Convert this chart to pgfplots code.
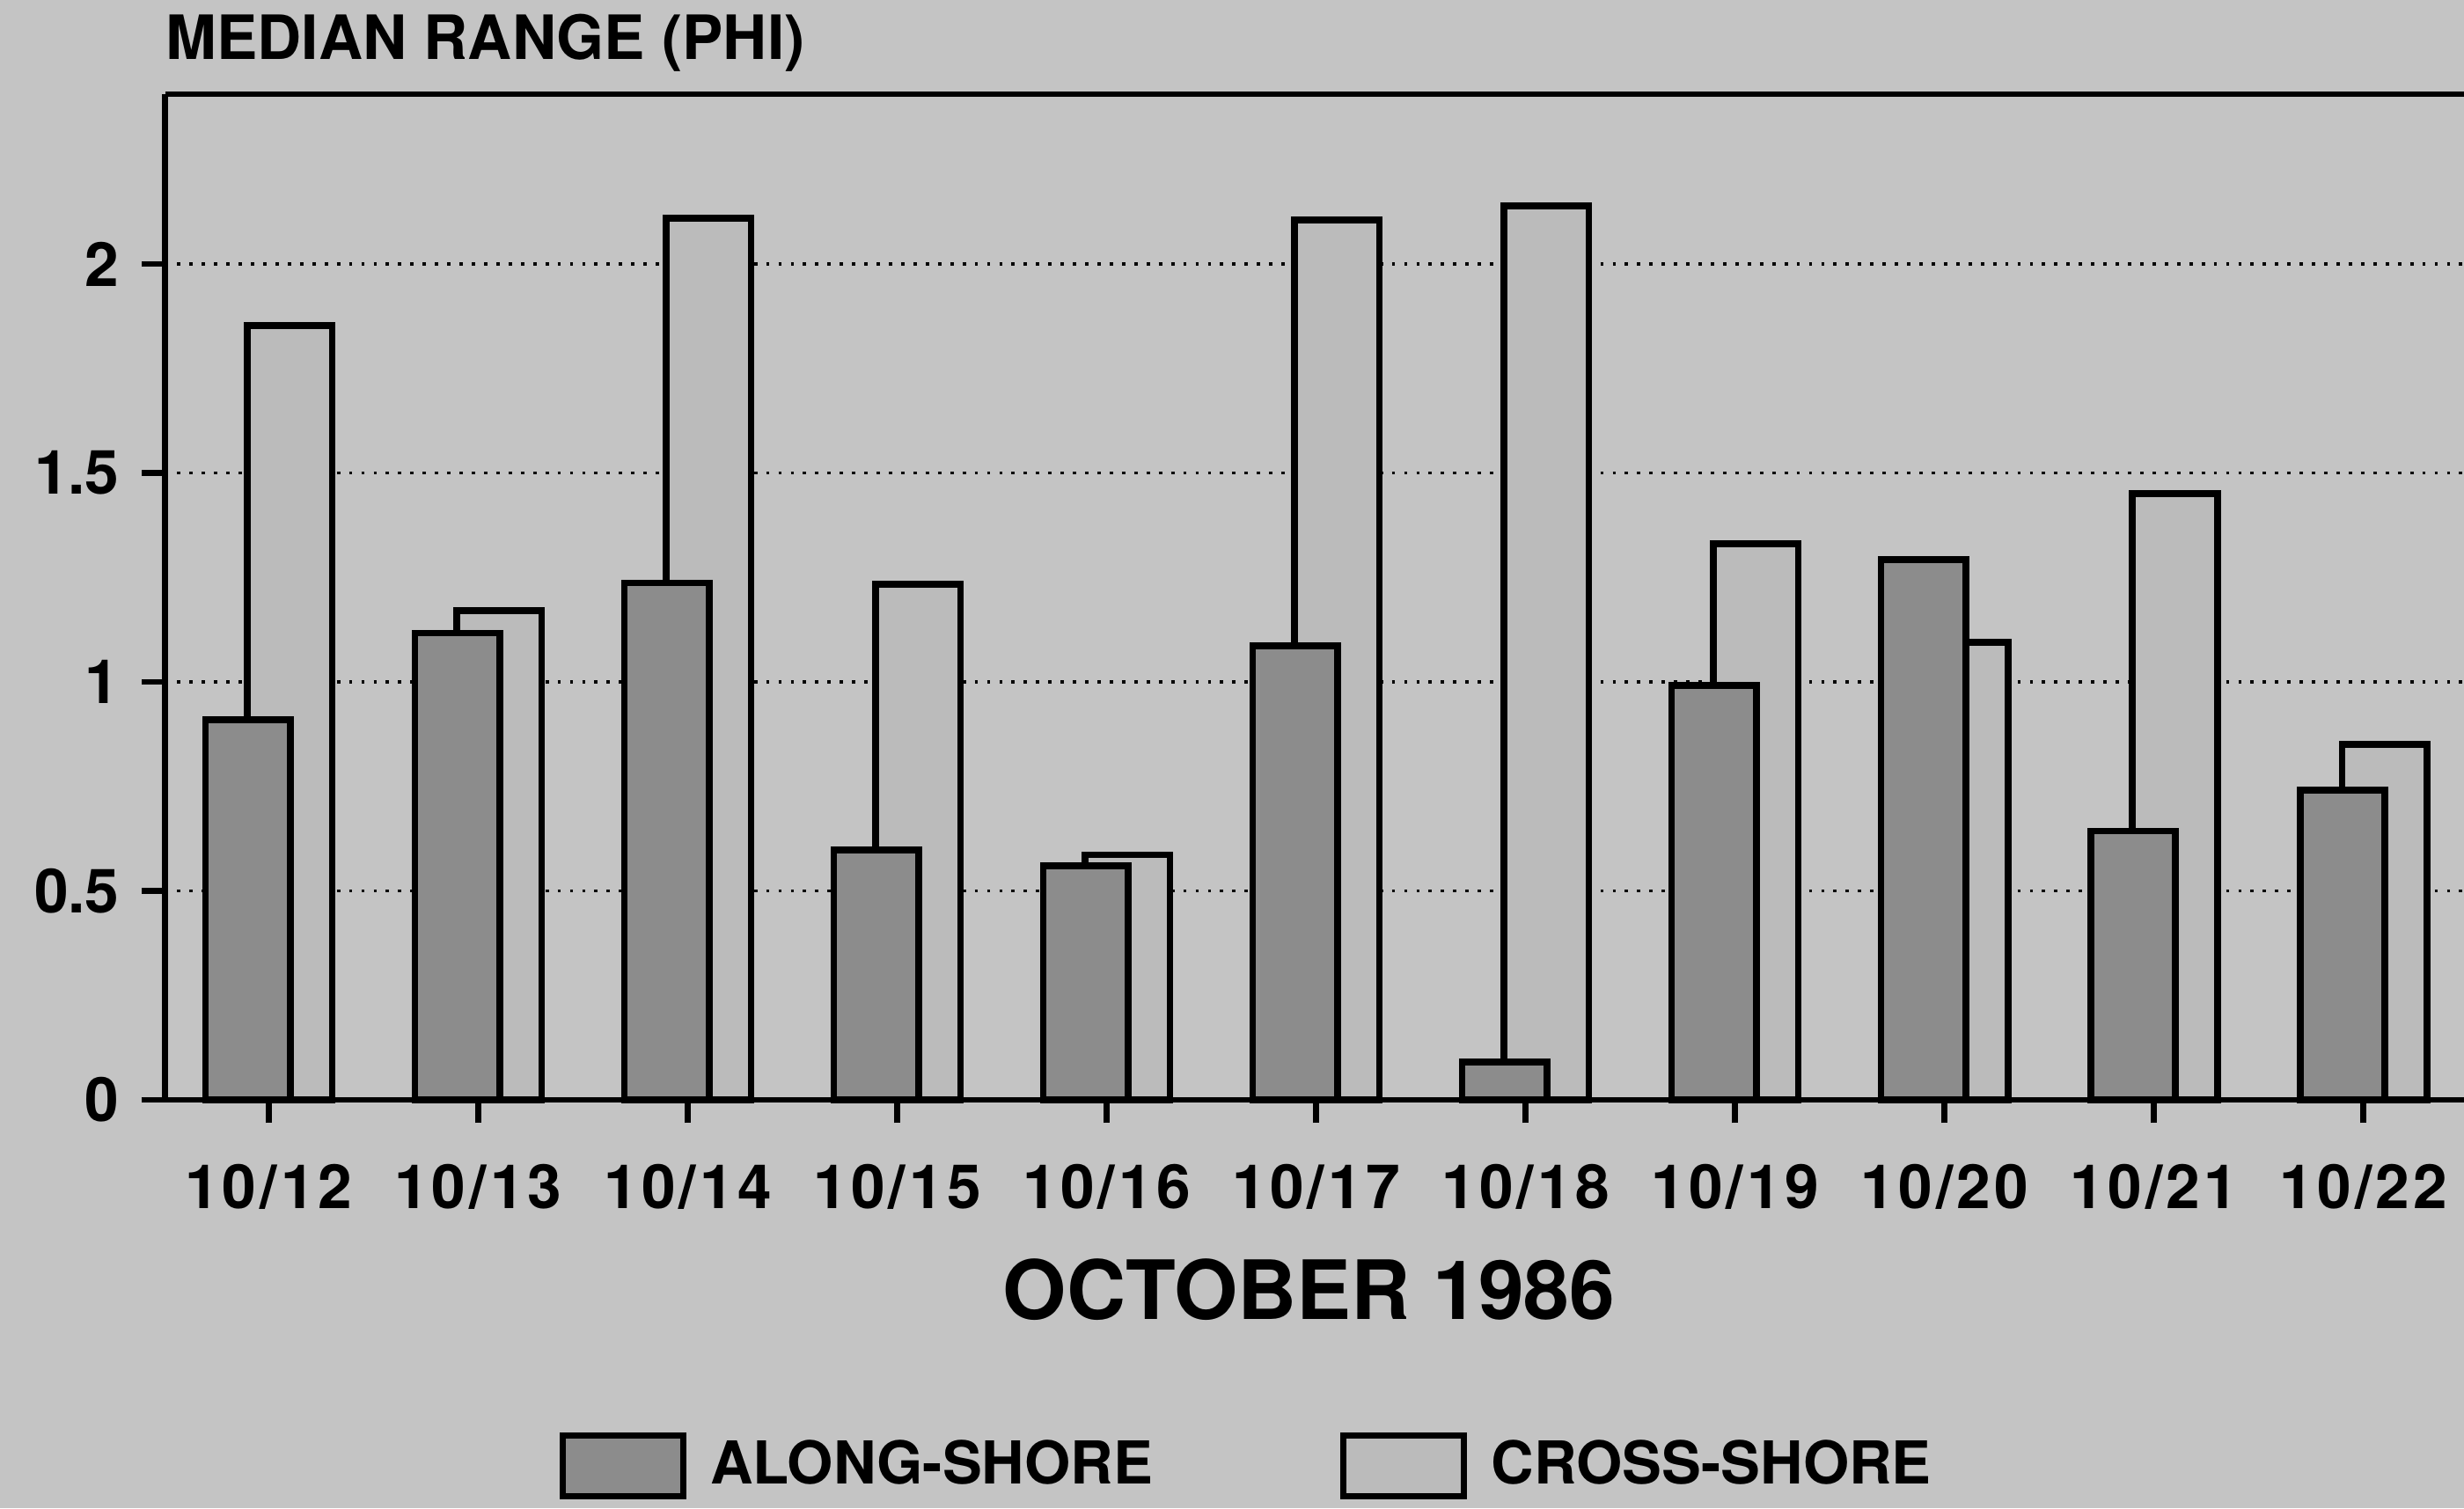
\documentclass[border=0pt]{standalone}
\usepackage{pgfplots}
\pgfplotsset{compat=1.18}
\usepackage{fontspec}
\setmainfont{TeX Gyre Heros}
\usetikzlibrary{backgrounds}
\definecolor{bggray}{HTML}{C4C4C4}
\definecolor{alongc}{HTML}{8C8C8C}
\definecolor{crossc}{HTML}{BBBBBB}
\newcommand{\lblfont}{\bfseries\fontsize{12.7}{15}\selectfont}
\begin{document}
\begin{tikzpicture}
\begin{axis}[
  scale only axis,
  width=16.795cm, height=7.347cm,
  xmin=-0.495, xmax=10.48,
  ymin=0, ymax=2.406,
  ybar, bar width=0.405,
  clip=false,
  axis x line=bottom, axis y line=left,
  axis line style={-, line width=1.2pt},
  tick align=outside,
  major tick length=0.17cm,
  tick style={black, line width=1.2pt},
  xtick={0,...,10},
  xticklabels={10/12,10/13,10/14,10/15,10/16,10/17,10/18,10/19,10/20,10/21,10/22},
  ytick={0,0.5,1,1.5,2},
  /pgf/number format/assume math mode=true,
  ticklabel style={font=\lblfont},
  xticklabel style={yshift=-0.18cm, font=\lblfont\addfontfeatures{LetterSpace=6}},
  yticklabel style={xshift=-0.04cm},
  ymajorgrids,
  major grid style={black, line width=0.7pt, dash pattern=on 0.7pt off 1.85pt},
  every axis x label/.style={at={(axis description cs:0.4976,-0.21875)}, anchor=base},
  xlabel={\bfseries\fontsize{17}{20}\selectfont OCTOBER 1986},
  every axis y label/.style={at={(axis description cs:0,1.035)}, anchor=base west, inner sep=0pt},
  ylabel={\lblfont MEDIAN RANGE (PHI)},
  legend image code/.code={\draw[#1, line width=1.3pt] (0cm,-0.22cm) rectangle (0.88cm,0.22cm); \path (1.0cm,0);},
  legend style={draw=none, fill=none, legend columns=2,
    font=\bfseries\fontsize{12.3}{15}\selectfont,
    at={(axis description cs:0.165,-0.364)}, anchor=west,
    /tikz/every even column/.append style={column sep=1.3cm}},
  legend cell align=left,
]
\addlegendimage{fill=alongc, draw=black}
\addlegendentry{ALONG-SHORE}
\addlegendimage{fill=crossc, draw=black}
\addlegendentry{CROSS-SHORE}

% cross-shore first so the along-shore bars sit in front
\addplot[forget plot, fill=crossc, draw=black, line width=1.4pt, bar shift=0.1] coordinates {
  (0,1.853) (1,1.170) (2,2.109) (3,1.233) (4,0.586) (5,2.105)
  (6,2.139) (7,1.331) (8,1.094) (9,1.451) (10,0.850)
};
\addplot[forget plot, fill=alongc, draw=black, line width=1.4pt, bar shift=-0.1] coordinates {
  (0,0.910) (1,1.117) (2,1.237) (3,0.598) (4,0.560) (5,1.086)
  (6,0.090) (7,0.992) (8,1.293) (9,0.643) (10,0.741)
};

\draw[line width=1.2pt] (rel axis cs:0,1) -- (rel axis cs:1,1);
\draw[line width=1.2pt] (rel axis cs:-0.0103,0) -- (rel axis cs:0,0);
\coordinate (bbl) at (rel axis cs:-0.0718,-0.40625);
\coordinate (btr) at (rel axis cs:1,1.09375);
\end{axis}
\pgfresetboundingbox
\path[use as bounding box] (bbl) rectangle (btr);
\begin{pgfonlayer}{background}
\fill[bggray] (bbl) rectangle (btr);
\end{pgfonlayer}
\end{tikzpicture}
\end{document}
